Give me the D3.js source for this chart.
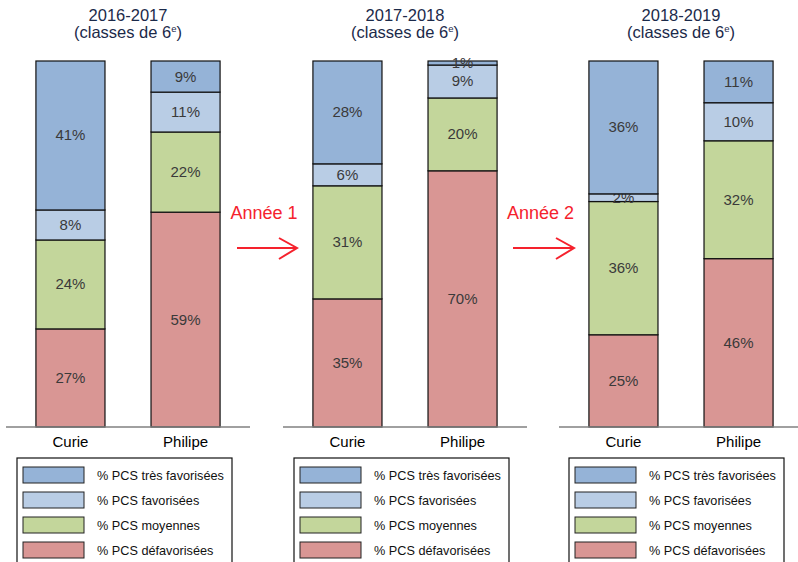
<!DOCTYPE html>
<html>
<head>
<meta charset="utf-8">
<script src="https://cdn.jsdelivr.net/npm/d3@7"></script>
<style>
  body { margin: 0; background: #fff; }
  svg { display: block; font-family: "Liberation Sans", Arial, sans-serif; }
</style>
</head>
<body>
<div id="viz"></div>
<script>
// data: one entry per year, [Curie, Philipe]
var years = ["2016-2017", "2017-2018", "2018-2019"];
var schools = ["Curie", "Philipe"];
var seriesNames = ["% PCS défavorisées", "% PCS moyennes", "% PCS favorisées", "% PCS très favorisées"];
var seriesColors = ["#D99694", "#C3D69B", "#B9CDE5", "#95B3D7"];

var defav   = [[26.8, 58.7], [35.0, 70.0], [25.2, 46.0]];
var moyen   = [[24.3, 21.9], [30.9, 19.9], [36.4, 32.2]];
var fav     = [[8.2, 10.9], [6.0, 9.0], [2.1, 10.4]];
var tresFav = [[40.7, 8.5], [28.1, 1.1], [36.3, 11.4]];

var arrowLabels = ["Année 1", "Année 2"];

var W = 798, H = 562;
var panelX = [6, 283, 559];
var panelW = 244;
var baseY = 427, topY = 61;

var svg = d3.select("#viz").append("svg")
    .attr("width", W)
    .attr("height", H);

var x = d3.scaleBand().domain(schools).range([0, panelW])
    .paddingInner(0.4).paddingOuter(0.26);
var y = d3.scaleLinear().domain([0, 100]).range([baseY, topY]);

var stack = d3.stack().keys(d3.range(seriesNames.length));

years.forEach(function(yr, p){
    var g = svg.append("g").attr("transform", "translate(" + panelX[p] + ",0)");

    // rows for the stack: one per school
    var rows = schools.map(function(s, i){
        return [defav[p][i], moyen[p][i], fav[p][i], tresFav[p][i]];
    });
    var layers = stack(rows);

    // title (two separate lines)
    g.append("text")
        .attr("x", panelW / 2).attr("y", 21)
        .attr("text-anchor", "middle")
        .style("fill", "#1B2A4A")
        .style("font-size", "16.5px")
        .text(yr);
    var t2 = g.append("text")
        .attr("x", panelW / 2).attr("y", 38)
        .attr("text-anchor", "middle")
        .style("fill", "#1B2A4A")
        .style("font-size", "16.5px");
    t2.append("tspan").text("(classes de 6");
    t2.append("tspan").attr("dy", -6).style("font-size", "9.5px").text("e");
    t2.append("tspan").attr("dy", 6).text(")");

    layers.forEach(function(layer, k){
        var lg = g.append("g");
        lg.selectAll("rect")
            .data(layer)
            .enter()
            .append("rect")
            .attr("x", function(d, i){ return x(schools[i]); })
            .attr("width", x.bandwidth())
            .attr("y", function(d){ return y(d[1]); })
            .attr("height", function(d){ return y(d[0]) - y(d[1]); })
            .style("fill", seriesColors[k])
            .style("stroke", "#111")
            .style("stroke-width", 1.2);
        lg.selectAll("text")
            .data(layer)
            .enter()
            .append("text")
            .attr("x", function(d, i){ return x(schools[i]) + x.bandwidth() / 2; })
            .attr("y", function(d){ return (y(d[0]) + y(d[1])) / 2 + 5; })
            .attr("text-anchor", "middle")
            .style("fill", "#3A3A3A")
            .style("font-size", "15px")
            .text(function(d){ return Math.round(d[1] - d[0]) + "%"; });
    });

    // baseline + category labels
    var ax = g.append("g").attr("transform", "translate(0," + baseY + ")")
        .call(d3.axisBottom(x).tickSize(0).tickPadding(9));
    ax.select(".domain").attr("d", "M0,0H" + panelW).style("stroke", "#808080").style("stroke-width", 1.5);
    ax.selectAll("text").style("font-size", "15px").style("fill", "#000")
        .style("font-family", "'Liberation Sans', Arial, sans-serif");

    // legend
    var leg = g.append("g").attr("transform", "translate(" + (p == 2 ? 10 : 11) + ",458)");
    leg.append("rect")
        .attr("width", 215).attr("height", 120)
        .style("fill", "#fff").style("stroke", "#111").style("stroke-width", 1.2);
    var items = seriesNames.slice().reverse();
    var cols = seriesColors.slice().reverse();
    items.forEach(function(name, i){
        leg.append("rect")
            .attr("x", 6).attr("y", 9 + i * 25)
            .attr("width", 61).attr("height", 16)
            .style("fill", cols[i]).style("stroke", "#222").style("stroke-width", 1);
        leg.append("text")
            .attr("x", 80).attr("y", 22 + i * 25)
            .style("font-size", "12.7px").style("fill", "#111")
            .text(name);
    });
});

// red arrows between panels
var red = "#F5222D";
arrowLabels.forEach(function(lbl, i){
    var x0 = [237, 513][i], x1 = [297, 574][i];
    var ag = svg.append("g");
    ag.append("text")
        .attr("x", (x0 + x1) / 2 - 3).attr("y", 219)
        .attr("text-anchor", "middle")
        .style("fill", red).style("font-size", "18px")
        .text(lbl);
    ag.append("line")
        .attr("x1", x0).attr("x2", x1).attr("y1", 248).attr("y2", 248)
        .style("stroke", red).style("stroke-width", 2);
    ag.append("path")
        .attr("d", "M" + (x1 - 18) + ",238L" + x1 + ",248L" + (x1 - 18) + ",259")
        .style("fill", "none").style("stroke", red).style("stroke-width", 2);
});
</script>
</body>
</html>
